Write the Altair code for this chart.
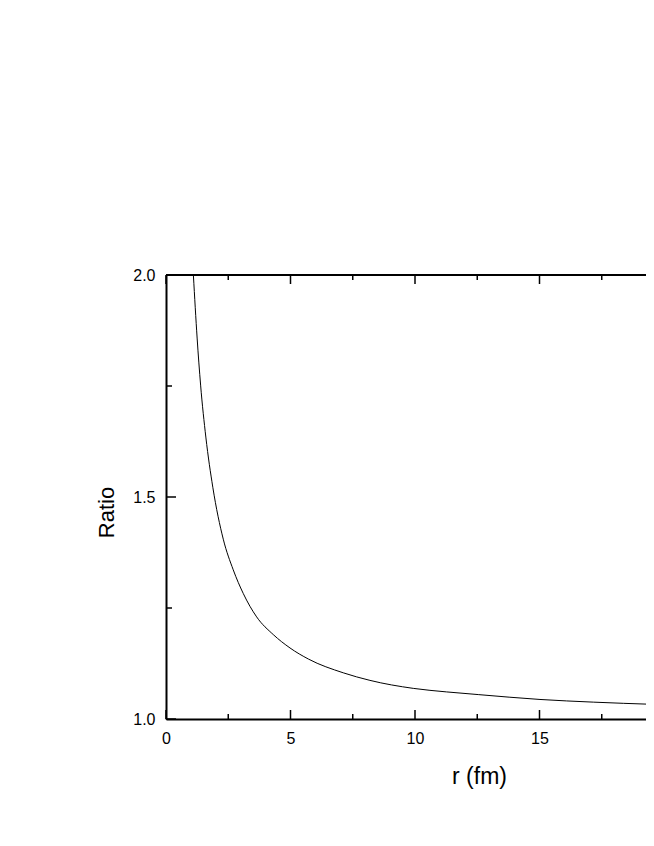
import altair as alt
import pandas as pd

# Curve values
r_vals = [1.10, 1.25, 1.39, 1.60, 1.88, 2.30, 2.70, 3.10, 3.64, 4.31, 4.98,
          5.72, 7.12, 8.19, 9.93, 11.27, 12.54, 15.02, 17.16, 19.57]
ratio_vals = [2.00, 1.858, 1.752, 1.635, 1.522, 1.405, 1.336, 1.283, 1.230, 1.190, 1.160,
              1.135, 1.104, 1.087, 1.069, 1.061, 1.055, 1.044, 1.038, 1.033]

x_major = [0, 5, 10, 15]
x_minor = [2.5, 7.5, 12.5, 17.5]
y_major = [1.0, 1.5, 2.0]
y_minor = [1.25, 1.75]

W, H = 480, 444
X_DOMAIN = [0, W / 24.9]
Y_DOMAIN = [1.0, 2.0]

FONT = "Liberation Sans"

df = pd.DataFrame({"r": r_vals, "ratio": ratio_vals})
xscale = alt.Scale(domain=X_DOMAIN, nice=False, zero=False)
yscale = alt.Scale(domain=Y_DOMAIN, nice=False, zero=False)

x_axis = alt.Axis(
    values=x_major, title="r (fm)", ticks=False, tickSize=0, grid=False,
    domainWidth=2, domainColor="black", labelFontSize=16, labelPadding=11,
    labelColor="black", labelFont=FONT, labelFlush=False,
    titleFont=FONT, titleFontSize=23, titleFontWeight="normal",
    titleColor="black", titleX=313, titleY=64, titleBaseline="alphabetic",
    titleAlign="center")
y_axis = alt.Axis(
    values=y_major, format=".1f", title="Ratio", ticks=False, tickSize=0,
    grid=False, domainWidth=2, domainColor="black", labelFontSize=16,
    labelPadding=11, labelColor="black", labelFont=FONT, labelFlush=False,
    titleFont=FONT, titleFontSize=22, titleFontWeight="normal",
    titleColor="black", titleX=-53, titleY=237, titleAngle=270,
    titleBaseline="alphabetic", titleAlign="center")

curve = alt.Chart(df).mark_line(color="black", strokeWidth=1, clip=True,
                                interpolate="monotone").encode(
    x=alt.X("r:Q", scale=xscale, axis=x_axis, title="r (fm)"),
    y=alt.Y("ratio:Q", scale=yscale, axis=y_axis, title="Ratio"),
)

def xticks(vals, y0, y1):
    return alt.Chart(pd.DataFrame({"v": vals})).mark_rule(
        color="black", strokeWidth=1.5).encode(
        x=alt.X("v:Q", scale=xscale, axis=x_axis, title="r (fm)"),
        y=alt.value(y0), y2=alt.value(y1))

def yticks(vals, x0, x1):
    return alt.Chart(pd.DataFrame({"v": vals})).mark_rule(
        color="black", strokeWidth=1.5).encode(
        y=alt.Y("v:Q", scale=yscale, axis=y_axis, title="Ratio"),
        x=alt.value(x0), x2=alt.value(x1))

bottom_major = xticks(x_major, H, H - 9)
bottom_minor = xticks(x_minor, H, H - 5)
top_major = xticks(x_major, 0, 9)
top_minor = xticks(x_minor, 0, 5)
left_major = yticks(y_major, 0, 10)
left_minor = yticks(y_minor, 0, 6)

top_border = alt.Chart(pd.DataFrame({"a": [0]})).mark_rule(
    color="black", strokeWidth=2).encode(
    x=alt.value(0), x2=alt.value(W), y=alt.value(0))

chart = alt.layer(
    curve, bottom_major, bottom_minor, top_major, top_minor,
    left_major, left_minor, top_border
).properties(
    width=W, height=H,
    autosize=alt.AutoSizeParams(type="none"),
    padding={"left": 158, "top": 267, "right": 0, "bottom": 70},
).configure_view(stroke=None).configure(background="white")

chart.save("out.html", embed_options={"renderer": "svg", "actions": False})
